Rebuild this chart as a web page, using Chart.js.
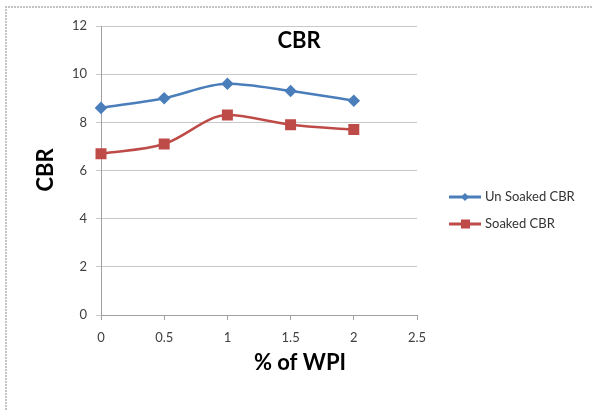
<!DOCTYPE html>
<html>
<head>
<meta charset="utf-8">
<script src="https://cdn.jsdelivr.net/npm/chart.js@4"></script>
<style>
html,body{margin:0;padding:0;background:#fff;}
#wrap{width:592px;height:410px;position:relative;}
</style>
</head>
<body>
<div id="wrap"><canvas id="c" width="592" height="410"></canvas></div>
<script>
const wpi = [0, 0.5, 1, 1.5, 2];
const unsoakedCBR = [8.6, 9.0, 9.6, 9.3, 8.9];
const soakedCBR = [6.7, 7.1, 8.3, 7.9, 7.7];
const seriesNames = ["Un Soaked CBR", "Soaked CBR"];
const chartTitle = "CBR";
const xTitle = "% of WPI";
const yTitle = "CBR";

const BLUE = "#4a7ebb";
const RED = "#be4b48";
const FONT = "Lato, 'Open Sans', sans-serif";

const decor = {
  id: "decor",
  afterDraw(chart) {
    const ctx = chart.ctx;
    ctx.save();
    // outer dashed frame
    ctx.strokeStyle = "#c4c4c4";
    ctx.lineWidth = 2;
    ctx.setLineDash([2, 1]);
    ctx.beginPath();
    ctx.moveTo(6, 410);
    ctx.lineTo(6, 7);
    ctx.lineTo(592, 7);
    ctx.stroke();
    ctx.setLineDash([]);
    // titles
    ctx.fillStyle = "#000";
    ctx.textAlign = "center";
    ctx.textBaseline = "middle";
    ctx.font = "bold 22px " + FONT;
    ctx.fillText(chartTitle, 299, 41);
    ctx.fillText(xTitle, 300, 363);
    ctx.translate(46, 170);
    ctx.rotate(-Math.PI / 2);
    ctx.fillText(yTitle, 0, 0);
    ctx.restore();
    // legend
    ctx.save();
    const ys = [197, 224];
    chart.data.datasets.forEach((ds, i) => {
      const y = ys[i];
      ctx.strokeStyle = ds.borderColor;
      ctx.lineWidth = 3;
      ctx.beginPath();
      ctx.moveTo(449, y);
      ctx.lineTo(481, y);
      ctx.stroke();
      ctx.fillStyle = ds.backgroundColor;
      if (ds.pointStyle === "rectRot") {
        ctx.beginPath();
        ctx.moveTo(465, y - 4);
        ctx.lineTo(469, y);
        ctx.lineTo(465, y + 4);
        ctx.lineTo(461, y);
        ctx.closePath();
        ctx.fill();
      } else {
        ctx.fillRect(461, y - 4.5, 9, 9);
      }
      ctx.fillStyle = "#333";
      ctx.font = "13px " + FONT;
      ctx.textAlign = "left";
      ctx.textBaseline = "middle";
      ctx.fillText(ds.label, 485, y);
    });
    ctx.restore();
  }
};

new Chart(document.getElementById("c"), {
  type: "scatter",
  data: {
    datasets: [
      {
        label: seriesNames[0],
        data: wpi.map((x, i) => ({x, y: unsoakedCBR[i]})),
        showLine: true,
        clip: false,
        borderColor: BLUE,
        backgroundColor: BLUE,
        borderWidth: 2.5,
        cubicInterpolationMode: "monotone",
        pointStyle: "rectRot",
        pointRadius: 4.5,
        pointHoverRadius: 4.5
      },
      {
        label: seriesNames[1],
        data: wpi.map((x, i) => ({x, y: soakedCBR[i]})),
        showLine: true,
        clip: false,
        borderColor: RED,
        backgroundColor: RED,
        borderWidth: 2.5,
        cubicInterpolationMode: "monotone",
        pointStyle: "rect",
        pointRadius: 6,
        pointHoverRadius: 6
      }
    ]
  },
  options: {
    responsive: false,
    animation: false,
    layout: { padding: { left: 0, top: 26, right: 175, bottom: 55 } },
    plugins: { legend: { display: false }, tooltip: { enabled: false }, title: { display: false } },
    scales: {
      x: {
        type: "linear",
        min: 0, max: 2.5,
        afterFit(s) { s.height = 40; },
        ticks: { stepSize: 0.5, color: "#404040", font: { family: FONT, size: 13 }, padding: 10,
                 callback: (v) => String(v) },
        grid: { drawOnChartArea: false, drawTicks: true, tickLength: 5, color: "#a0a0a0" },
        border: { color: "#a0a0a0", width: 1 }
      },
      y: {
        min: 0, max: 12,
        afterFit(s) { s.width = 101; },
        ticks: { stepSize: 2, color: "#404040", font: { family: FONT, size: 13 }, padding: 9,
                 callback: (v) => String(v) },
        grid: { color: "#c8c8c8", tickLength: 5, drawTicks: true },
        border: { color: "#a0a0a0", width: 1 }
      }
    }
  },
  plugins: [decor]
});
</script>
</body>
</html>
